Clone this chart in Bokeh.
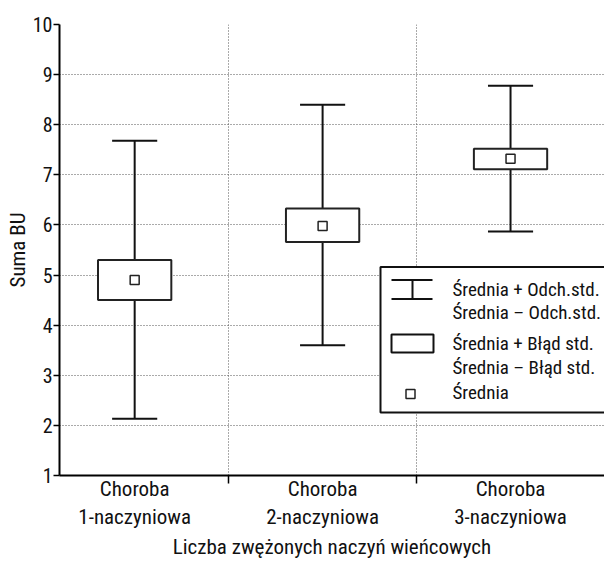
from bokeh.plotting import figure
from bokeh.models import Range1d, FixedTicker, ColumnDataSource
from bokeh.core.properties import value
from bokeh.embed import file_html
from bokeh.resources import INLINE

FONT = "Roboto Condensed"

# ---- data ----
categories = ["Choroba\n1-naczyniowa", "Choroba\n2-naczyniowa", "Choroba\n3-naczyniowa"]
positions = [1, 2, 3]
mean = [4.90, 5.98, 7.32]
sd_upper = [7.68, 8.40, 8.78]
sd_lower = [2.13, 3.60, 5.87]
se_upper = [5.30, 6.33, 7.52]
se_lower = [4.50, 5.66, 7.11]
y_ticks = [1, 2, 3, 4, 5, 6, 7, 8, 9, 10]
legend_labels = ["Średnia + Odch.std.", "Średnia – Odch.std.",
                 "Średnia + Błąd std.", "Średnia – Błąd std.", "Średnia"]

CAP = 0.12
BOXW = 0.39

p = figure(width=604, height=562, output_backend="svg", toolbar_location=None,
           x_range=Range1d(0.6, 3.5), y_range=Range1d(1, 10),
           min_border_left=59, min_border_right=0, min_border_top=24, min_border_bottom=87)
p.outline_line_color = None
p.background_fill_color = "white"

# axes
p.xaxis.ticker = FixedTicker(ticks=positions, minor_ticks=[1.5, 2.5])
p.xaxis.major_label_overrides = {pos: lab for pos, lab in zip(positions, categories)}
p.xaxis.major_tick_line_color = None
p.xaxis.major_tick_out = 0
p.xaxis.major_tick_in = 0
p.xaxis.minor_tick_line_color = "black"
p.xaxis.minor_tick_out = 8
p.xaxis.minor_tick_in = 0
p.xaxis.minor_tick_line_width = 1.5
p.xaxis.axis_label = "Liczba zwężonych naczyń wieńcowych"
p.yaxis.ticker = FixedTicker(ticks=y_ticks)
p.yaxis.axis_label = "Suma BU"
p.yaxis.major_tick_out = 6
p.yaxis.major_tick_in = 0
p.yaxis.minor_tick_line_color = None
for ax in (p.xaxis, p.yaxis):
    ax.axis_line_color = "black"
    ax.axis_line_width = 2
    ax.major_tick_line_width = 1.5
    ax.major_label_text_font = FONT
    ax.major_label_text_font_size = "21px"
    ax.major_label_text_color = "#111111"
    ax.axis_label_text_font = FONT
    ax.axis_label_text_font_size = "21px"
    ax.axis_label_text_font_style = "normal"
    ax.axis_label_text_color = "#111111"
p.yaxis.major_label_text_font_size = "20px"
p.xaxis.major_label_standoff = -7
p.xaxis.axis_label_standoff = 3
p.yaxis.major_label_standoff = 1
p.yaxis.axis_label_standoff = 0

p.xgrid.ticker = FixedTicker(ticks=[1.5, 2.5])
p.ygrid.ticker = FixedTicker(ticks=y_ticks)
for g in (p.xgrid, p.ygrid):
    g.grid_line_color = "#555555"
    g.grid_line_dash = "1 2"
    g.grid_line_width = 1

src = ColumnDataSource(dict(x=positions, mean=mean, sdu=sd_upper, sdl=sd_lower,
                            seu=se_upper, sel=se_lower,
                            x0=[v - CAP for v in positions], x1=[v + CAP for v in positions]))

p.segment(x0="x", y0="sdl", x1="x", y1="sdu", source=src, line_color="#111111", line_width=2)
p.segment(x0="x0", y0="sdu", x1="x1", y1="sdu", source=src, line_color="#111111", line_width=2)
p.segment(x0="x0", y0="sdl", x1="x1", y1="sdl", source=src, line_color="#111111", line_width=2)
p.vbar(x="x", width=BOXW, top="seu", bottom="sel", source=src,
       fill_color="white", line_color="#222222", line_width=2)
p.scatter(x="x", y="mean", source=src, marker="square", size=9,
          fill_color="white", line_color="#222222", line_width=1.5)

# ---- legend (drawn by hand, placed in data coordinates) ----
def dx(px):
    return 0.6 + (px - 59) / 187.93

def dy(py):
    return 1 + (474.6 - py) / 50.11

p.quad(left=[dx(380)], right=[dx(640)], top=[dy(266)], bottom=[dy(411.5)],
       fill_color="white", line_color="#111111", line_width=2)
p.segment(x0=[dx(391), dx(391), dx(412)], y0=[dy(279), dy(298), dy(279)],
          x1=[dx(432), dx(432), dx(412)], y1=[dy(279), dy(298), dy(298)],
          line_color="#111111", line_width=2)
p.quad(left=[dx(391)], right=[dx(433)], top=[dy(333.5)], bottom=[dy(351.5)],
       fill_color="white", line_color="#111111", line_width=2)
p.scatter(x=[dx(410)], y=[dy(393)], marker="square", size=9,
          fill_color="white", line_color="#222222", line_width=1.5)
row_center = [288.5, 312, 342.5, 366.5, 391.5]
p.text(x=[dx(452)] * 5, y=[dy(v) for v in row_center], text=legend_labels,
       text_font=value(FONT), text_font_size="19px", text_color="#111111",
       text_baseline="middle", text_align="left")

open("out.html", "w").write(file_html(p, INLINE))
